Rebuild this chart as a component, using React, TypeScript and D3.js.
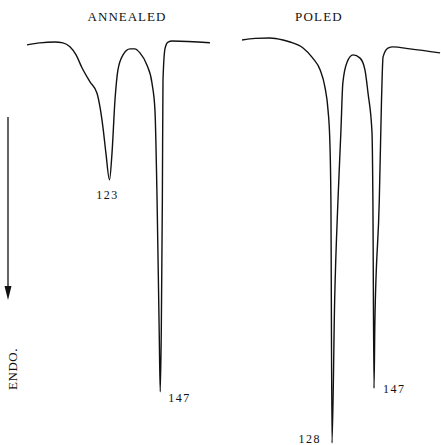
import React, { useEffect, useRef } from "react";
import * as d3 from "d3";

// DSC traces, temperature in deg C, signal in arbitrary units (endo is down)
const annealedT = [84, 90.1, 97.2, 101, 104.3, 107.2, 110, 113.8, 117.1, 118.5, 119.9, 121.3, 123, 124.2, 125.6, 127, 129.4, 132.7, 135, 137.4, 140.7, 143.1, 144.5, 145.5, 146.5, 147, 147.5, 148, 148.3, 149.3, 150.7, 152.6, 170.5];
const annealedSignal = [-1.2, -0.7, -0.5, -0.7, -1.7, -3.7, -6.9, -10.4, -13.2, -16.6, -21.6, -28, -34.7, -28, -14.9, -7.4, -3.7, -2.2, -2.2, -3.2, -6.2, -10.7, -17.4, -39.7, -72, -87.3, -72, -39.7, -10, -2, -0.5, -0.25, -0.7];

const poledT = [87.3, 93.2, 99.9, 105.8, 109, 114.9, 119.3, 122.6, 124.8, 126.2, 127, 127.5, 128, 129.2, 130.7, 132, 132.9, 134.8, 137.5, 140.7, 142.9, 144.3, 146.1, 146.5, 147, 147.4, 149.4, 150.4, 151.1, 153.3, 155.6, 163.3, 176.9];
const poledSignal = [0, 0.4, 0.5, 0, -0.5, -2, -4.5, -7.4, -11.7, -17.4, -24.8, -39.7, -100, -64.5, -39.7, -23, -10.7, -5.5, -3.7, -4.5, -7.4, -13.2, -23, -39.7, -86.4, -70, -39.7, -14.9, -4.2, -2, -1.7, -2.2, -3.2];

const titles = ["ANNEALED", "POLED"];
const annealedPeaks = [123, 147];
const poledPeaks = [128, 147];

export default function App() {
    const svgRef = useRef(null);

    useEffect(() => {
        const svg = d3.select(svgRef.current);
        svg.selectAll("*").remove();

        const width = 441;
        const height = 445;
        svg.attr("width", width).attr("height", height);

        const ink = "#111";
        const font = "Liberation Serif";

        //shared vertical scale
        const y = d3.scaleLinear().domain([0, -100]).range([40, 443]);

        //each panel has its own temperature scale
        const xA = d3.scaleLinear().domain([84, 171]).range([27, 211]);
        const xP = d3.scaleLinear().domain([87, 177]).range([241.4, 440.3]);

        const makeLine = (x) => d3.line()
            .x((d) => x(d[0]))
            .y((d) => y(d[1]))
            .curve(d3.curveMonotoneX);

        const annealed = annealedT.map((t, i) => [t, annealedSignal[i]]);
        const poled = poledT.map((t, i) => [t, poledSignal[i]]);

        svg.append("path")
            .attr("d", makeLine(xA)(annealed))
            .attr("fill", "none")
            .attr("stroke", ink)
            .attr("stroke-width", 1.4);

        svg.append("path")
            .attr("d", makeLine(xP)(poled))
            .attr("fill", "none")
            .attr("stroke", ink)
            .attr("stroke-width", 1.4);

        //titles
        svg.append("text")
            .attr("x", 127).attr("y", 21)
            .attr("text-anchor", "middle")
            .attr("font-family", font).attr("font-size", 13)
            .attr("letter-spacing", 1).attr("fill", ink)
            .text(titles[0]);

        svg.append("text")
            .attr("x", 319).attr("y", 21)
            .attr("text-anchor", "middle")
            .attr("font-family", font).attr("font-size", 13)
            .attr("letter-spacing", 1.2).attr("fill", ink)
            .text(titles[1]);

        //peak labels
        const label = (txt, px, py, anchor) => svg.append("text")
            .attr("x", px).attr("y", py)
            .attr("text-anchor", anchor)
            .attr("font-family", font).attr("font-size", 12)
            .attr("letter-spacing", 1.5).attr("fill", ink)
            .text(txt);

        label(annealedPeaks[0], xA(annealedPeaks[0]) - 2, 199, "middle");
        label(annealedPeaks[1], xA(annealedPeaks[1]) + 8, 402, "start");
        label(poledPeaks[0], xP(poledPeaks[0]) - 11, 443, "end");
        label(poledPeaks[1], xP(poledPeaks[1]) + 9, 393, "start");

        //endotherm arrow
        svg.append("line")
            .attr("x1", 8).attr("x2", 8)
            .attr("y1", 117).attr("y2", 290)
            .attr("stroke", ink).attr("stroke-width", 1.3);

        svg.append("path")
            .attr("d", "M4.5,286 L11.5,286 L8,300 Z")
            .attr("fill", ink);

        svg.append("text")
            .attr("transform", "translate(17,369) rotate(-90)")
            .attr("text-anchor", "middle")
            .attr("font-family", font).attr("font-size", 13)
            .attr("letter-spacing", 0.5).attr("fill", ink)
            .text("ENDO.");
    }, []);

    return (
        <div style={{ position: "absolute", left: 0, top: 0 }}>
            <svg ref={svgRef} style={{ display: "block" }}></svg>
        </div>
    );
}
